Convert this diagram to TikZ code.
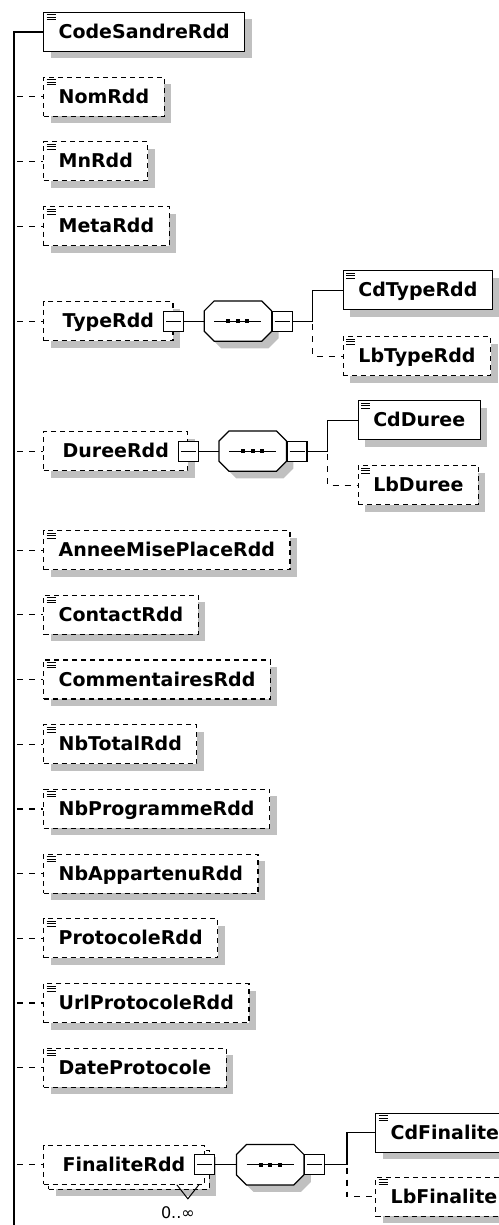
\documentclass[tikz,border=0pt]{standalone}
\usepackage{fontspec}
\setmainfont{DejaVu Sans}
\usetikzlibrary{positioning, shadows}
\definecolor{shadowgray}{RGB}{192,192,192}
\tikzstyle{box} = [rectangle, draw=black, line width=1.2pt, fill=white, minimum height=39pt, text height=13pt, text depth=0pt, inner xsep=15pt, font=\bfseries\fontsize{19}{22}\selectfont]
\tikzstyle{shadowed} = [drop shadow={shadow xshift=7pt, shadow yshift=-7pt, fill=shadowgray, opacity=1}]
\tikzstyle{icon} = [path picture={
  \draw[solid, line width=1pt] ([shift={(3pt,-2.5pt)}]path picture bounding box.north west) -- ++(9pt,0pt);
  \draw[solid, line width=1pt] ([shift={(3pt,-5pt)}]path picture bounding box.north west) -- ++(9pt,0pt);
  \draw[solid, line width=1pt] ([shift={(3pt,-7.5pt)}]path picture bounding box.north west) -- ++(9pt,0pt);}]
\tikzstyle{req} = [box, shadowed, icon]
\tikzstyle{opt} = [box, shadowed, icon, dash pattern=on 5pt off 4pt]
\tikzstyle{cplx} = [box, dash pattern=on 5pt off 4pt, inner xsep=19pt]
\tikzstyle{minus} = [rectangle, draw=black, solid, line width=1.2pt, fill=white, minimum size=20pt, inner sep=0pt, path picture={
  \draw[line width=1.2pt] ([xshift=-7.5pt]path picture bounding box.center) -- ([xshift=7.5pt]path picture bounding box.center);}]
\tikzstyle{seq} = [rectangle, minimum width=67pt, minimum height=40pt, inner sep=0pt]
\tikzstyle{conn} = [line width=1.2pt]
\tikzstyle{optconn} = [conn, dash pattern=on 6pt off 6pt, dash phase=9pt]
\tikzstyle{card} = [font=\fontsize{16}{18}\selectfont, inner sep=0pt]
\newcommand{\seqframe}[1]{%
  \draw[line width=1.2pt, fill=white, shadowed] ([xshift=10pt]#1.north west) -- ([xshift=-10pt]#1.north east) -- ([yshift=-10pt]#1.north east) -- ([yshift=10pt]#1.south east) -- ([xshift=-10pt]#1.south east) -- ([xshift=10pt]#1.south west) -- ([yshift=10pt]#1.south west) -- ([yshift=-10pt]#1.north west) -- cycle;
  \draw[line width=1.2pt] ([xshift=-23.5pt]#1.center) -- ([xshift=23.5pt]#1.center);
  \fill ([xshift=-9.5pt]#1.center) +(-2pt,-2pt) rectangle +(2pt,2pt);
  \fill (#1.center) +(-2pt,-2pt) rectangle +(2pt,2pt);
  \fill ([xshift=9.5pt]#1.center) +(-2pt,-2pt) rectangle +(2pt,2pt);}

\begin{document}
\begin{tikzpicture}[x=1pt, y=1pt, node distance=64.7pt]
\useasboundingbox (0,0) rectangle (498,-1225);
\node (code) [req, anchor=west] at (43,-32) {CodeSandreRdd};
\node (nom) [opt, below=of code.west, anchor=west] {NomRdd};
\node (mn) [opt, below=of nom.west, anchor=west] {MnRdd};
\node (meta) [opt, below=of mn.west, anchor=west] {MetaRdd};
\node (type) [cplx, shadowed, below=95pt of meta.west, anchor=west] {TypeRdd};
\node (duree) [cplx, shadowed, below=130pt of type.west, anchor=west] {DureeRdd};
\node (annee) [opt, below=99pt of duree.west, anchor=west] {AnneeMisePlaceRdd};
\node (contact) [opt, below=of annee.west, anchor=west] {ContactRdd};
\node (comment) [opt, below=of contact.west, anchor=west] {CommentairesRdd};
\node (nbtotal) [opt, below=of comment.west, anchor=west] {NbTotalRdd};
\node (nbprog) [opt, below=of nbtotal.west, anchor=west] {NbProgrammeRdd};
\node (nbapp) [opt, below=of nbprog.west, anchor=west] {NbAppartenuRdd};
\node (proto) [opt, below=of nbapp.west, anchor=west] {ProtocoleRdd};
\node (urlproto) [opt, below=of proto.west, anchor=west] {UrlProtocoleRdd};
\node (dateproto) [opt, below=of urlproto.west, anchor=west] {DateProtocole};
\node (finaliteback) [cplx, shadowed, below=102pt of dateproto.west, anchor=west, xshift=5pt] {\phantom{FinaliteRdd}};
\node (finalite) [cplx] at ([shift={(-5pt,5pt)}]finaliteback.center) {FinaliteRdd};

\node (typem) [minus] at (type.east) {};
\node (typeseq) [seq, right=20pt of typem] {};
\seqframe{typeseq}
\node (typesm) [minus, right=0pt of typeseq] {};
\coordinate [right=20pt of typesm] (typeb);
\node (cdtype) [req, above right=31pt and 30pt of typeb, anchor=west] {CdTypeRdd};
\node (lbtype) [opt, below right=35pt and 30pt of typeb, anchor=west] {LbTypeRdd};

\node (dureem) [minus] at (duree.east) {};
\node (dureeseq) [seq, right=20pt of dureem] {};
\seqframe{dureeseq}
\node (dureesm) [minus, right=0pt of dureeseq] {};
\coordinate [right=20pt of dureesm] (dureeb);
\node (cdduree) [req, above right=31pt and 30pt of dureeb, anchor=west] {CdDuree};
\node (lbduree) [opt, below right=34pt and 30pt of dureeb, anchor=west] {LbDuree};

\node (finalitem) [minus] at (finalite.east) {};
\node (finaliteseq) [seq, right=21pt of finalitem] {};
\seqframe{finaliteseq}
\node (finalitesm) [minus, right=0pt of finaliteseq] {};
\coordinate [right=22pt of finalitesm] (finaliteb);
\node (cdfinal) [req, above right=32pt and 28pt of finaliteb, anchor=west] {CdFinalite};
\node (lbfinal) [opt, below right=32pt and 28pt of finaliteb, anchor=west] {LbFinalite};

\coordinate (finalitev) at ([shift={(-17pt,-14pt)}]finalite.south east);
\draw[line width=1pt] ([shift={(-11pt,14pt)}]finalitev) -- (finalitev) -- ([shift={(11pt,14pt)}]finalitev);
\node (finalitecard) [card] at ([shift={(-10pt,-14pt)}]finalitev) {0..∞};

\coordinate (spinetop) at ([xshift=-29pt]code.west);
\coordinate (spineend) at (spinetop |- 0,-1225);
\draw[conn] (code.west) -- (spinetop) -- (spineend);
\draw[optconn] (nom.west -| spinetop) -- (nom.west);
\draw[optconn] (mn.west -| spinetop) -- (mn.west);
\draw[optconn] (meta.west -| spinetop) -- (meta.west);
\draw[optconn] (type.west -| spinetop) -- (type.west);
\draw[optconn] (duree.west -| spinetop) -- (duree.west);
\draw[optconn] (annee.west -| spinetop) -- (annee.west);
\draw[optconn] (contact.west -| spinetop) -- (contact.west);
\draw[optconn] (comment.west -| spinetop) -- (comment.west);
\draw[optconn] (nbtotal.west -| spinetop) -- (nbtotal.west);
\draw[optconn] (nbprog.west -| spinetop) -- (nbprog.west);
\draw[optconn] (nbapp.west -| spinetop) -- (nbapp.west);
\draw[optconn] (proto.west -| spinetop) -- (proto.west);
\draw[optconn] (urlproto.west -| spinetop) -- (urlproto.west);
\draw[optconn] (dateproto.west -| spinetop) -- (dateproto.west);
\draw[optconn] (finalite.west -| spinetop) -- (finalite.west);

\draw[conn] (typem) -- (typeseq);
\draw[conn] (typesm) -- (typeb);
\draw[conn] (typeb) |- (cdtype.west);
\draw[optconn] (typeb) |- (lbtype.west);
\draw[conn] (dureem) -- (dureeseq);
\draw[conn] (dureesm) -- (dureeb);
\draw[conn] (dureeb) |- (cdduree.west);
\draw[optconn] (dureeb) |- (lbduree.west);
\draw[conn] (finalitem) -- (finaliteseq);
\draw[conn] (finalitesm) -- (finaliteb);
\draw[conn] (finaliteb) |- (cdfinal.west);
\draw[optconn] (finaliteb) |- (lbfinal.west);
\end{tikzpicture}
\end{document}
